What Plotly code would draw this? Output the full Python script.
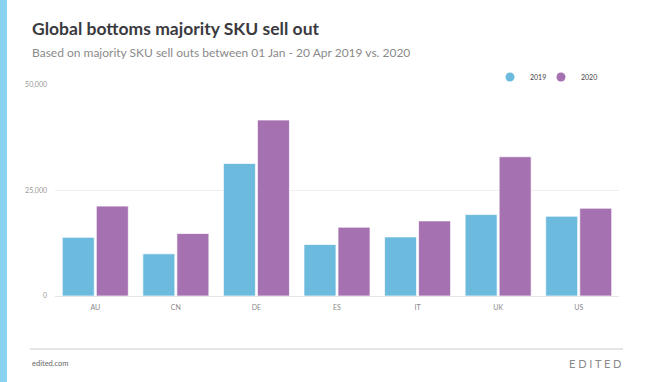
import plotly.graph_objects as go

countries = ["AU", "CN", "DE", "ES", "IT", "UK", "US"]
sales_2019 = [13900, 10000, 31400, 12200, 14000, 19300, 18900]
sales_2020 = [21300, 14800, 41700, 16300, 17800, 33000, 20800]
y_ticks = [0, 25000, 50000]
y_tick_labels = ["0", "25,000", "50,000"]

W, H = 650, 382
S_LEFT, S_RIGHT, S_TOP, S_BOTTOM = 55, 619, 85, 296   # plot area in px
L, T, R, B = S_LEFT, S_TOP, W - S_RIGHT, H - S_BOTTOM
PW = S_RIGHT - S_LEFT
PH = S_BOTTOM - S_TOP

def px(x):
    return (x - S_LEFT) / PW

def py(y):
    return (S_BOTTOM - y) / PH

BLUE = "#6CBADD"
PURPLE = "#A571B0"
FONT = "Lato, 'Open Sans', sans-serif"

fig = go.Figure()
fig.add_trace(go.Bar(x=countries, y=sales_2019, name="2019",
                     marker=dict(color=BLUE, line=dict(color="rgba(255,255,255,0.7)", width=1)), showlegend=False))
fig.add_trace(go.Bar(x=countries, y=sales_2020, name="2020",
                     marker=dict(color=PURPLE, line=dict(color="rgba(255,255,255,0.7)", width=1)), showlegend=False))
fig.add_trace(go.Scatter(x=[None], y=[None], mode="markers", name="2019",
                         marker=dict(color=BLUE, size=9, symbol="circle")))
fig.add_trace(go.Scatter(x=[None], y=[None], mode="markers", name="2020",
                         marker=dict(color=PURPLE, size=9, symbol="circle")))
# invisible spacer entry so the last legend label is not clipped
fig.add_trace(go.Scatter(x=[None], y=[None], mode="markers", name=" ",
                         marker=dict(color="rgba(0,0,0,0)", size=1), hoverinfo="skip"))

fig.update_layout(
    width=W, height=H,
    margin=dict(l=L, r=R, t=T, b=B, pad=0, autoexpand=False),
    paper_bgcolor="white", plot_bgcolor="white",
    barmode="group", bargap=0.155, bargroupgap=0.06,
    font=dict(family=FONT, color="#888888", size=7),
    legend=dict(orientation="h", x=px(490), xanchor="left", y=py(77), yanchor="middle",
                font=dict(size=7, color="#444444", family=FONT),
                entrywidth=6, entrywidthmode="pixels", bgcolor="rgba(0,0,0,0)",
                itemwidth=30),
    xaxis=dict(showgrid=False, showline=False, zeroline=False, ticks="",
               tickfont=dict(size=7, color="#888888"), ticklabelstandoff=6, fixedrange=True),
    yaxis=dict(range=[0, 50000], tickvals=y_ticks, ticktext=y_tick_labels,
               showgrid=True, gridcolor="#EFEFEF", gridwidth=1,
               zeroline=True, zerolinecolor="#E6E6E6", zerolinewidth=1,
               showline=False, ticks="", tickfont=dict(size=7, color="#999999"),
               ticklabelstandoff=7, fixedrange=True),
    showlegend=True,
)

# left stripe
fig.add_shape(type="rect", xref="paper", yref="paper", x0=px(-2), x1=px(7), y0=py(H + 5), y1=py(-5),
              fillcolor="#8BD2F1", line=dict(width=0), layer="below")
# footer line
fig.add_shape(type="line", xref="paper", yref="paper", x0=px(30), x1=px(623), y0=py(349), y1=py(349),
              line=dict(color="#CCCCCC", width=1))

fig.add_annotation(text="<b>Global bottoms majority SKU sell out</b>", xref="paper", yref="paper",
                   x=px(30), y=py(29), xanchor="left", yanchor="middle", showarrow=False,
                   font=dict(size=17.5, color="#3A3A40", family=FONT))
fig.add_annotation(text="Based on majority SKU sell outs between 01 Jan - 20 Apr 2019 vs. 2020", xref="paper", yref="paper",
                   x=px(30), y=py(52), xanchor="left", yanchor="middle", showarrow=False,
                   font=dict(size=12, color="#8A8A8A", family=FONT))
fig.add_annotation(text="edited.com", xref="paper", yref="paper",
                   x=px(30), y=py(363), xanchor="left", yanchor="middle", showarrow=False,
                   font=dict(size=7.5, color="#666666", family=FONT))
fig.add_annotation(text="E D I T E D", xref="paper", yref="paper",
                   x=px(623), y=py(363), xanchor="right", yanchor="middle", showarrow=False,
                   font=dict(size=11, color="#8A8A8A", family=FONT))

fig.write_html("out.html", config={"displayModeBar": False},
               post_script="document.body.style.margin='0';")
